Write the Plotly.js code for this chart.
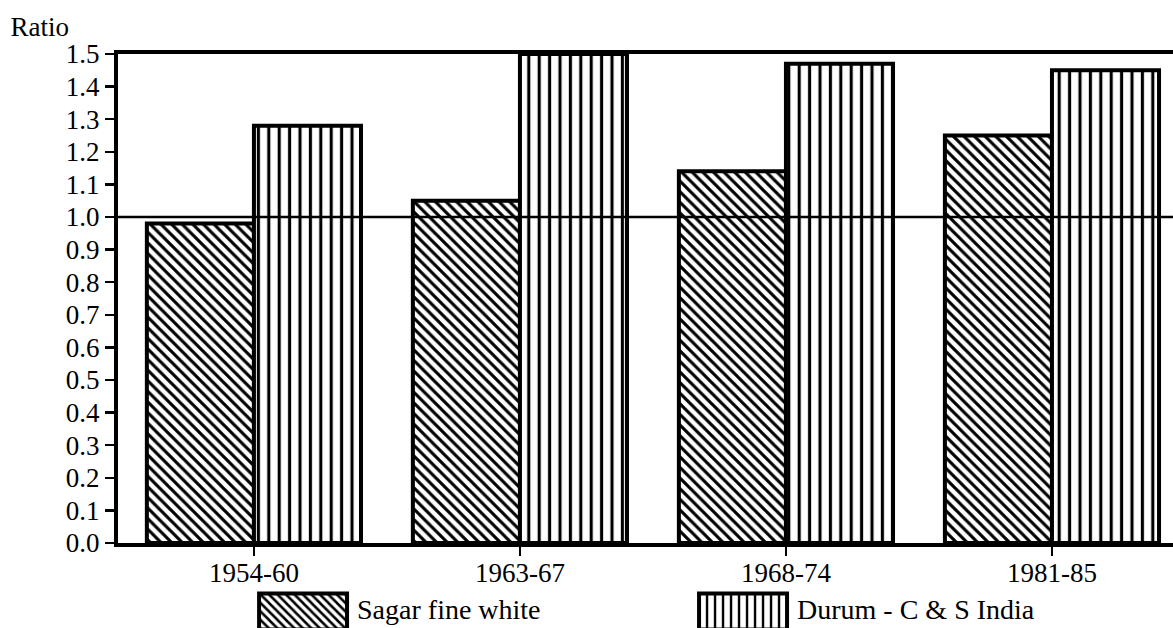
<!DOCTYPE html>
<html>
<head>
<meta charset="utf-8">
<script src="https://cdn.plot.ly/plotly-3.0.1.min.js"></script>
<style>
  html, body { margin: 0; padding: 0; background: #ffffff; }
  #chart { width: 1173px; height: 628px; }
</style>
</head>
<body>
<div id="chart"></div>
<script>
// ---- data ----
var periods = ['1954-60', '1963-67', '1968-74', '1981-85'];
var sagarFineWhite = [0.98, 1.05, 1.14, 1.25];
var durumCSIndia = [1.28, 1.50, 1.47, 1.45];
var seriesNames = ['Sagar fine white', 'Durum - C & S India'];
var yTickValues = [0.0, 0.1, 0.2, 0.3, 0.4, 0.5, 0.6, 0.7, 0.8, 0.9, 1.0, 1.1, 1.2, 1.3, 1.4, 1.5];
var referenceLevel = 1.0;
var yAxisLabel = 'Ratio';

var FONT = '"Liberation Serif", "Times New Roman", serif';

var data = [
  {
    type: 'bar',
    name: seriesNames[0],
    x: periods,
    y: sagarFineWhite,
    marker: {
      color: '#ffffff',
      line: { color: '#000000', width: 4 },
      pattern: { shape: '\\', size: 7.5, solidity: 0.42, fgcolor: '#000000', bgcolor: '#ffffff', fgopacity: 1 }
    },
    hoverinfo: 'skip'
  },
  {
    type: 'bar',
    name: seriesNames[1],
    x: periods,
    y: durumCSIndia,
    marker: {
      color: '#ffffff',
      line: { color: '#000000', width: 4 },
      pattern: { shape: '|', size: 10.4, solidity: 0.3, fgcolor: '#000000', bgcolor: '#ffffff', fgopacity: 1 }
    },
    hoverinfo: 'skip'
  }
];

var layout = {
  width: 1173,
  height: 628,
  margin: { l: 118, r: 0, t: 54, b: 85, pad: 0, autoexpand: false },
  paper_bgcolor: '#ffffff',
  plot_bgcolor: '#ffffff',
  font: { family: FONT, size: 26, color: '#000000' },
  title: {
    text: yAxisLabel,
    font: { family: FONT, size: 27, color: '#000000' },
    xref: 'container', x: 0.009, xanchor: 'left',
    yref: 'container', y: 0.958, yanchor: 'middle'
  },
  barmode: 'group',
  bargap: 0.195,
  bargroupgap: 0,
  showlegend: true,
  legend: {
    orientation: 'h',
    xref: 'paper', x: 0.1318, xanchor: 'left',
    yref: 'container', y: 0.071, yanchor: 'top',
    font: { family: FONT, size: 28, color: '#000000' },
    itemwidth: 90,
    entrywidth: 335,
    entrywidthmode: 'pixels',
    bgcolor: 'rgba(0,0,0,0)',
    borderwidth: 0,
    traceorder: 'normal'
  },
  xaxis: {
    type: 'category',
    range: [-0.511, 3.455],
    automargin: false,
    showline: true, linecolor: '#000000', linewidth: 4,
    mirror: true,
    ticks: 'outside', ticklen: 9, tickwidth: 2, tickcolor: '#000000',
    ticklabelstandoff: -6,
    showgrid: false, zeroline: false,
    tickfont: { family: FONT, size: 27, color: '#000000' },
    fixedrange: true
  },
  yaxis: {
    range: [0, 1.5],
    automargin: false,
    tickvals: yTickValues,
    tickformat: '.1f',
    showline: true, linecolor: '#000000', linewidth: 4,
    mirror: false,
    ticks: 'outside', ticklen: 9, tickwidth: 2.5, tickcolor: '#000000',
    showgrid: false, zeroline: false,
    tickfont: { family: FONT, size: 27, color: '#000000' },
    fixedrange: true
  },
  shapes: [
    {
      type: 'line', xref: 'paper', x0: 0, x1: 1,
      yref: 'y', y0: referenceLevel, y1: referenceLevel,
      line: { color: '#000000', width: 2.5 },
      layer: 'above'
    }
  ]
};

Plotly.newPlot('chart', data, layout, { staticPlot: true, displayModeBar: false }).then(function (gd) {
  // enlarge legend swatches to match the reference's wide pattern boxes,
  // placing each one just left of its label text
  var items = gd.querySelectorAll('.legend .traces');
  items.forEach(function (tr) {
    var txt = tr.querySelector('text.legendtext');
    var pts = tr.querySelector('.legendpoints');
    if (!txt || !pts) return;
    pts.setAttribute('transform', 'translate(0,0)');
    var paths = pts.querySelectorAll('path');
    paths.forEach(function (p) {
      p.setAttribute('d', 'M44,18H-44V-18H44Z');
      p.style.strokeWidth = '4px';
    });
    if (!paths.length) return;
    var pr = paths[0].getBoundingClientRect();
    var tb = txt.getBoundingClientRect();
    var cx0 = pr.left + pr.width / 2;
    var cy0 = pr.top + pr.height / 2;
    var wantX = tb.left - 8 - 46;
    var wantY = tb.top + tb.height / 2 + 2;
    pts.setAttribute('transform', 'translate(' + (wantX - cx0) + ',' + (wantY - cy0) + ')');
  });
});
</script>
</body>
</html>
